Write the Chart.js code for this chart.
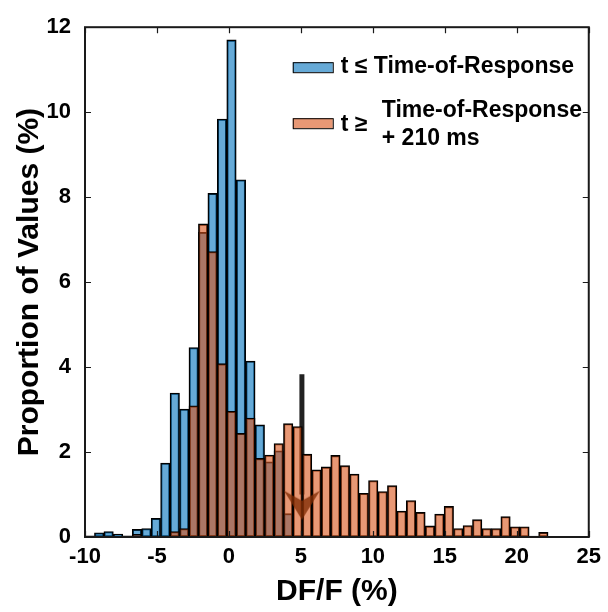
<!DOCTYPE html>
<html><head><meta charset="utf-8">
<script src="https://cdn.jsdelivr.net/npm/chart.js@4.4.0/dist/chart.umd.min.js"></script>
<style>html,body{margin:0;padding:0;background:#fff;}canvas{display:block;}</style>
</head><body>
<canvas id="c" width="608" height="612"></canvas>
<script>
// ---- data ----
const binStart = -10;
const binWidth = 0.6566;
const beforeResponse = [0.03,0.10,0.13,0.07,0.03,0.18,0.20,0.44,1.74,3.39,3.01,4.46,7.17,8.09,9.84,11.70,8.41,4.14,2.64,1.77,2.03,0.55,0,0,0,0,0,0,0,0,0,0,0,0,0,0,0,0,0,0,0,0,0,0,0,0,0,0,0];
const afterResponse  = [0,0,0,0,0,0.06,0,0,0,0.13,0.20,3.09,7.37,6.72,4.08,2.96,2.44,2.80,1.85,1.93,2.20,2.67,2.60,1.95,1.58,1.65,1.92,1.68,1.48,1.03,1.33,1.07,1.21,0.61,0.86,0.58,0.26,0.54,0.72,0.20,0.27,0.41,0.20,0.20,0.48,0.24,0.24,0.02,0.11];
const xTicks = [-10,-5,0,5,10,15,20,25];
const yTicks = [0,2,4,6,8,10,12];
const legendBefore = 't ≤ Time-of-Response';
const legendAfter = ['t ≥', 'Time-of-Response', '+ 210 ms'];
const xTitle = 'DF/F (%)';
const yTitle = 'Proportion of Values (%)';
const meanValue = 5.07;      // vertical marker position (DF/F)
const meanLineTop = 3.83;    // marker line top
const meanLineBottom = 1.0;
const arrowY = 0.75;

// ---- build datasets ----
const toPoints = arr => arr.map((v, k) => ({x: binStart + binWidth * (k + 0.5), y: v}));
const FONT = '"Liberation Sans", Arial, sans-serif';
const BLUE = 'rgba(0,114,189,0.6)';
const ORANGE = 'rgba(217,83,25,0.6)';

function makeArrow() {
  const c = document.createElement('canvas');
  c.width = 36; c.height = 29;
  const g = c.getContext('2d');
  g.fillStyle = 'rgba(130,45,5,0.78)';
  g.beginPath();
  g.moveTo(0, 0);
  g.lineTo(18, 29);
  g.lineTo(36, 0);
  g.lineTo(18, 10);
  g.closePath();
  g.fill();
  return c;
}

const framePlugin = {
  id: 'frame',
  afterDatasetsDraw(chart) {
    const {ctx, chartArea: a, scales: {x, y}} = chart;
    ctx.save();
    ctx.strokeStyle = '#1a1a1a';
    ctx.lineWidth = 2;
    ctx.strokeRect(a.left, a.top, a.right - a.left, a.bottom - a.top);
    ctx.lineWidth = 1.2;
    const tl = 6;
    ctx.beginPath();
    xTicks.forEach(t => {
      const px = Math.round(x.getPixelForValue(t)) + 0.5;
      ctx.moveTo(px, a.bottom); ctx.lineTo(px, a.bottom - tl);
      ctx.moveTo(px, a.top); ctx.lineTo(px, a.top + tl);
    });
    yTicks.forEach(t => {
      const py = Math.round(y.getPixelForValue(t)) + 0.5;
      ctx.moveTo(a.left, py); ctx.lineTo(a.left + tl, py);
      ctx.moveTo(a.right, py); ctx.lineTo(a.right - tl, py);
    });
    ctx.stroke();
    ctx.restore();
  },
  afterDraw(chart) {
    const {ctx, chartArea: a} = chart;
    const sx = a.right - 296, sw = 40, sh = 10;
    ctx.save();
    ctx.font = 'bold 23px ' + FONT;
    ctx.fillStyle = '#000';
    ctx.textBaseline = 'middle';
    ctx.textAlign = 'left';
    ctx.fillStyle = BLUE; ctx.fillRect(sx, a.top + 35, sw, sh);
    ctx.strokeStyle = '#000'; ctx.lineWidth = 1; ctx.strokeRect(sx + 0.5, a.top + 35.5, sw, sh);
    ctx.fillStyle = '#000';
    ctx.fillText(legendBefore, sx + 48, a.top + 39);
    ctx.fillStyle = ORANGE; ctx.fillRect(sx, a.top + 91, sw, sh);
    ctx.strokeRect(sx + 0.5, a.top + 91.5, sw, sh);
    ctx.fillStyle = '#000';
    ctx.fillText(legendAfter[0], sx + 48, a.top + 97);
    ctx.fillText(legendAfter[1], sx + 89, a.top + 83);
    ctx.fillText(legendAfter[2], sx + 89, a.top + 111);
    ctx.restore();
  }
};

new Chart(document.getElementById('c'), {
  type: 'bar',
  data: {
    datasets: [
      {type: 'scatter', data: [{x: meanValue, y: arrowY}], pointStyle: makeArrow(), order: 0, showLine: false},
      {label: legendAfter.join(' '), data: toPoints(afterResponse), backgroundColor: ORANGE, borderColor: '#000', borderWidth: 1.4, borderSkipped: false, order: 1, grouped: false, barPercentage: 1, categoryPercentage: 1},
      {type: 'line', data: [{x: meanValue, y: meanLineTop}, {x: meanValue, y: meanLineBottom}], borderColor: '#222', borderWidth: 5, pointRadius: 0, borderCapStyle: 'butt', order: 2},
      {label: legendBefore, data: toPoints(beforeResponse), backgroundColor: BLUE, borderColor: '#000', borderWidth: 1.4, borderSkipped: false, order: 3, grouped: false, barPercentage: 1, categoryPercentage: 1}
    ]
  },
  options: {
    responsive: false,
    animation: false,
    devicePixelRatio: 1,
    layout: {padding: {top: 22, right: 10, left: 0, bottom: 0}},
    plugins: {legend: {display: false}, tooltip: {enabled: false}},
    scales: {
      x: {
        type: 'linear', min: -10, max: 25, offset: false,
        afterFit: s => { s.height = 75; },
        afterBuildTicks: s => { s.ticks = xTicks.map(v => ({value: v})); },
        grid: {display: false, drawTicks: false, offset: false},
        border: {display: false},
        ticks: {color: '#000', font: {family: FONT, size: 22, weight: 'bold'}, padding: 7, maxRotation: 0, autoSkip: false},
        title: {display: true, text: xTitle, color: '#000', font: {family: FONT, size: 30, weight: 'bold'}, padding: {top: 0, bottom: 2}}
      },
      y: {
        min: 0, max: 12,
        afterFit: s => { s.width = 85; },
        afterBuildTicks: s => { s.ticks = yTicks.map(v => ({value: v})); },
        grid: {display: false, drawTicks: false},
        border: {display: false},
        ticks: {color: '#000', font: {family: FONT, size: 22, weight: 'bold'}, padding: 14, autoSkip: false},
        title: {display: true, text: yTitle, color: '#000', font: {family: FONT, size: 30, weight: 'bold'}, padding: {top: 12, bottom: 0}}
      }
    }
  },
  plugins: [framePlugin]
});
</script>
</body></html>
